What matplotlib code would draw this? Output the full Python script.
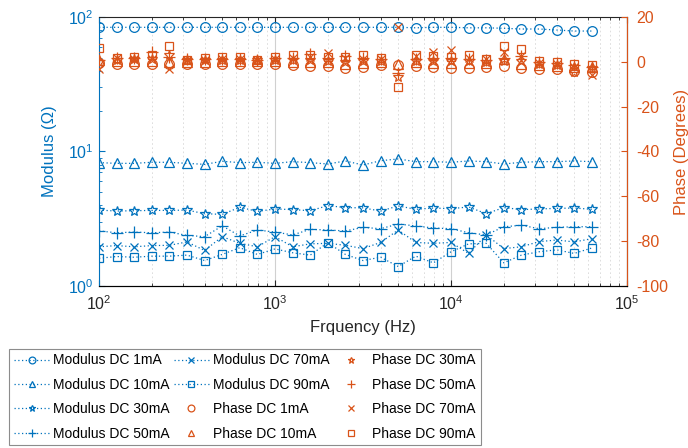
import numpy as np
import matplotlib
matplotlib.use("Agg")
import matplotlib.pyplot as plt

plt.rcParams['font.family'] = ['Liberation Sans', 'DejaVu Sans']
plt.rcParams['axes.unicode_minus'] = False

# ---- data ----
freq_exp = [2.0, 2.1, 2.2, 2.3, 2.4, 2.5, 2.6, 2.7, 2.8, 2.9,
            3.0, 3.1, 3.2, 3.3, 3.4, 3.5, 3.6, 3.7, 3.8, 3.9,
            4.0, 4.1, 4.2, 4.3, 4.4, 4.5, 4.6, 4.7, 4.8]
freq = [10 ** e for e in freq_exp]

mod_1mA = [84.2, 84.2, 84.2, 84.2, 84.2, 84.2, 84.2, 84.2, 84.2, 84.2,
           84.2, 84.2, 84.2, 84.2, 84.2, 84.2, 84.2, 84.2, 83.5, 84.2,
           84.2, 83.5, 83.5, 82.8, 81.8, 81.8, 80.4, 79.0, 79.0]
mod_10mA = [8.26, 8.16, 8.16, 8.31, 8.31, 8.16, 8.02, 8.45, 8.26, 8.31,
            8.16, 8.40, 8.26, 8.07, 8.50, 7.93, 8.54, 8.80, 8.40, 8.40,
            8.31, 8.50, 8.40, 8.07, 8.31, 8.40, 8.40, 8.50, 8.40]
mod_30mA = [3.66, 3.60, 3.62, 3.64, 3.64, 3.66, 3.44, 3.40, 3.84, 3.58,
            3.73, 3.69, 3.62, 3.95, 3.82, 3.80, 3.60, 3.93, 3.71, 3.79,
            3.75, 3.86, 3.44, 3.82, 3.69, 3.73, 3.77, 3.79, 3.71]
mod_50mA = [2.56, 2.48, 2.51, 2.48, 2.51, 2.37, 2.32, 2.79, 2.35, 2.60,
            2.51, 2.39, 2.63, 2.60, 2.56, 2.72, 2.66, 2.88, 2.79, 2.69,
            2.66, 2.48, 2.39, 2.75, 2.82, 2.66, 2.72, 2.75, 2.75]
mod_70mA = [1.95, 1.99, 1.95, 1.99, 2.00, 2.12, 1.83, 2.32, 2.07, 1.95,
            2.32, 1.95, 2.05, 2.07, 2.00, 1.89, 2.10, 2.60, 2.10, 2.07,
            2.10, 1.74, 2.39, 1.89, 1.95, 2.13, 2.19, 2.12, 2.24]
mod_90mA = [1.60, 1.65, 1.63, 1.66, 1.66, 1.69, 1.54, 1.71, 1.92, 1.71,
            1.88, 1.76, 1.69, 2.09, 1.71, 1.54, 1.63, 1.39, 1.66, 1.48,
            1.79, 2.05, 2.07, 1.48, 1.69, 1.79, 1.85, 1.74, 1.91]

ph_1mA = [-0.5, -0.7, -0.8, -0.7, -0.7, -0.7, -1.0, -0.8, -1.0, -0.7,
          -1.0, -1.5, -1.8, -1.8, -2.6, -2.2, -1.5, -1.5, -1.8, -2.2,
          -2.6, -2.6, -2.2, -1.9, -2.6, -3.0, -3.2, -3.8, -4.5]
ph_10mA = [0.9, 0.5, 0.3, 0.4, 0.2, 0.2, 0.2, 0.3, 0.3, 0.4,
           0.3, 0.0, -0.2, -0.2, -0.8, -0.5, 0.0, -0.9, 0.0, -0.3,
           -0.5, -0.6, -0.4, 1.5, -0.8, -1.5, -1.8, -2.2, -2.4]
ph_30mA = [0.1, 1.0, 1.2, 1.3, 3.3, 0.8, 1.0, 1.1, 1.0, 0.8,
           1.0, 1.0, 0.8, 0.6, 0.2, 0.6, 0.5, -6.9, 0.6, 0.6,
           0.4, 0.3, 0.2, 0.5, 0.5, -1.0, -1.2, -4.6, -2.5]
ph_50mA = [1.1, 2.0, 2.0, 4.4, 2.3, 1.2, 1.5, 1.5, 1.5, 1.0,
           1.8, 2.0, 3.5, 2.0, 2.5, 2.0, 1.5, -5.0, 1.5, 2.0,
           2.0, 1.5, 1.0, 2.0, 2.5, 0.0, -0.5, -1.5, -2.0]
ph_70mA = [-3.1, 1.9, 1.5, 1.5, -3.1, 0.8, 1.0, 1.3, 1.5, 0.8,
           1.3, 1.8, 2.3, 4.0, 1.8, 1.5, 1.5, 15.5, 2.7, 4.5,
           5.5, 2.0, 1.2, 4.5, 2.5, -0.5, -0.8, -2.0, -5.6]
ph_90mA = [6.3, 1.9, 2.3, 3.3, 7.1, 0.8, 1.9, 2.3, 2.3, 1.0,
           2.3, 3.2, 3.3, 2.3, 2.3, 3.0, 2.0, -11.0, 3.3, 2.8,
           2.3, 3.3, 1.5, 7.1, 5.9, 0.3, 0.0, -1.0, -1.5]

mod_labels = ['Modulus DC 1mA', 'Modulus DC 10mA', 'Modulus DC 30mA',
              'Modulus DC 50mA', 'Modulus DC 70mA', 'Modulus DC 90mA']
ph_labels = ['Phase DC 1mA', 'Phase DC 10mA', 'Phase DC 30mA',
             'Phase DC 50mA', 'Phase DC 70mA', 'Phase DC 90mA']

BLUE = '#0072BD'
ORANGE = '#D95319'
markers = ['o', '^', '*', '+', 'x', 's']
msizes = [7, 7, 7, 8, 6, 6]

fig = plt.figure(figsize=(6.88, 4.48), dpi=100)
ax = fig.add_axes([99 / 688, 1 - 285.7 / 448, (627 - 99) / 688, (285.7 - 17.3) / 448])
ax2 = ax.twinx()

mods = [mod_1mA, mod_10mA, mod_30mA, mod_50mA, mod_70mA, mod_90mA]
phs = [ph_1mA, ph_10mA, ph_30mA, ph_50mA, ph_70mA, ph_90mA]

handles = []
for vals, m, ms, lab in zip(mods, markers, msizes, mod_labels):
    h, = ax.plot(freq, vals, linestyle=(0, (1, 2)), linewidth=0.9, color=BLUE,
                 marker=m, markersize=ms, markerfacecolor='none',
                 markeredgecolor=BLUE, markeredgewidth=0.9, label=lab)
    handles.append(h)
for vals, m, ms, lab in zip(phs, markers, msizes, ph_labels):
    h, = ax2.plot(freq, vals, linestyle='none', color=ORANGE,
                  marker=m, markersize=ms, markerfacecolor='none',
                  markeredgecolor=ORANGE, markeredgewidth=0.9, label=lab)
    handles.append(h)

ax.set_xscale('log')
ax.set_yscale('log')
ax.set_xlim(1e2, 1e5)
ax.set_ylim(1, 100)
ax2.set_ylim(-100, 20)
ax2.set_yticks(np.arange(-100, 21, 20))

ax.grid(True, which='major', axis='x', color='#d0d0d0', linestyle='-', linewidth=0.8)
ax.grid(True, which='minor', axis='x', color='#d8d8d8', linestyle=(0, (2, 3)), linewidth=0.6)
ax.set_axisbelow(True)

TS = 11.5
ax.tick_params(axis='x', which='both', direction='in', top=True, colors='#262626',
               labelsize=TS, pad=6.5)
ax.tick_params(axis='x', which='major', length=4)
ax.tick_params(axis='x', which='minor', length=2.5)
ax.tick_params(axis='y', which='both', direction='in', colors=BLUE, labelsize=TS, pad=4)
ax.tick_params(axis='y', which='major', length=4)
ax.tick_params(axis='y', which='minor', length=2.5)
ax2.tick_params(axis='y', which='both', direction='in', colors=ORANGE, labelsize=TS,
                length=4, pad=6.5)

ax.spines['left'].set_color(BLUE)
ax.spines['top'].set_color('#262626')
ax.spines['bottom'].set_color('#262626')
ax2.spines['right'].set_color(ORANGE)
ax2.spines['left'].set_visible(False)
ax2.spines['top'].set_visible(False)
for s in ax.spines.values():
    s.set_linewidth(0.8)
ax2.spines['right'].set_linewidth(0.8)

ax.set_xlabel('Frquency (Hz)', fontsize=12, color='#262626', labelpad=5)
ax.set_ylabel('Modulus (\u03a9)', fontsize=12, color=BLUE, labelpad=8)
ax2.set_ylabel('Phase (Degrees)', fontsize=12, color=ORANGE, labelpad=4)

leg = fig.legend(handles=handles, labels=[h.get_label() for h in handles],
                 ncol=3, loc='upper left',
                 bbox_to_anchor=(9.3 / 688, 1 - 348.5 / 448),
                 fontsize=10, frameon=True, fancybox=False, framealpha=1,
                 edgecolor='#8c8c8c', handlelength=2.5, handletextpad=0.3,
                 columnspacing=0.3, labelspacing=0.75, borderpad=0.35,
                 markerscale=0.7, borderaxespad=0)
leg.get_frame().set_linewidth(0.8)

fig.savefig('out.png', dpi=100)
